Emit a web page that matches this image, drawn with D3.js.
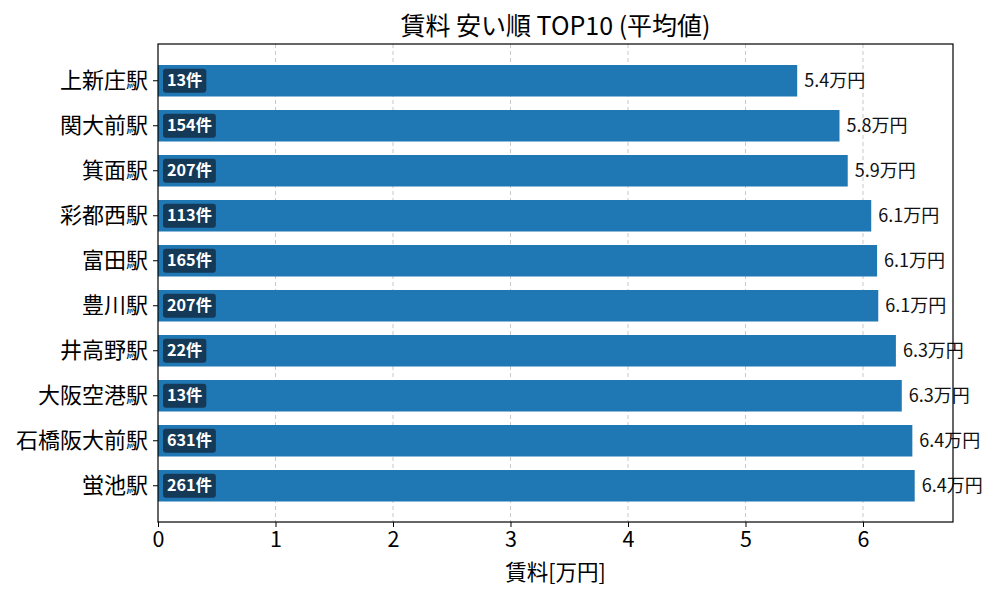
<!DOCTYPE html>
<html>
<head>
<meta charset="utf-8">
<script src="https://cdn.jsdelivr.net/npm/d3@7"></script>
<style>
  body { margin: 0; background: #fff; }
  text { font-family: "Noto Sans CJK JP", "Noto Sans", sans-serif; }
  .grid line { stroke: #c8c8c8; stroke-dasharray: 4 3; }
</style>
</head>
<body>
<svg id="chart" width="1000" height="600"></svg>
<script>
const stations = ["上新庄駅", "関大前駅", "箕面駅", "彩都西駅", "富田駅", "豊川駅", "井高野駅", "大阪空港駅", "石橋阪大前駅", "蛍池駅"];
const rents = [5.44, 5.80, 5.87, 6.07, 6.12, 6.13, 6.28, 6.33, 6.42, 6.44];
const counts = [13, 154, 207, 113, 165, 207, 22, 13, 631, 261];
const xTicks = [0, 1, 2, 3, 4, 5, 6];

const width = 1000;
const height = 600;
const margin = { top: 44, right: 47, bottom: 78, left: 158 };

const svg = d3.select("#chart");

const x = d3.scaleLinear()
    .domain([0, 6.766])
    .range([margin.left, width - margin.right]);

const y = d3.scaleBand()
    .domain(stations)
    .range([51.5, 515])
    .padding(0.3);

// grid
svg.append("g")
    .attr("class", "grid")
    .selectAll("line")
    .data(xTicks.slice(1))
    .join("line")
    .attr("x1", d => x(d))
    .attr("x2", d => x(d))
    .attr("y1", margin.top)
    .attr("y2", height - margin.bottom);

// bars
svg.append("g")
    .selectAll("rect")
    .data(stations)
    .join("rect")
    .attr("x", x(0))
    .attr("y", d => y(d))
    .attr("width", (d, i) => x(rents[i]) - x(0))
    .attr("height", y.bandwidth())
    .attr("fill", "#1f77b4");

// value labels
svg.append("g")
    .selectAll("text")
    .data(stations)
    .join("text")
    .attr("x", (d, i) => x(rents[i]) + 7)
    .attr("y", d => y(d) + y.bandwidth() / 2)
    .attr("dy", "0.35em")
    .style("font-size", "18px")
    .attr("fill", "#111")
    .text((d, i) => `${rents[i].toFixed(1)}万円`);

// count badges
const badges = svg.append("g")
    .selectAll("g")
    .data(stations)
    .join("g")
    .attr("transform", d => `translate(${x(0) + 5},${y(d) + y.bandwidth() / 2})`);

badges.append("text")
    .attr("x", 4)
    .attr("dy", "0.35em")
    .attr("fill", "#fff")
    .style("font-size", "16.2px")
    .style("font-weight", "bold")
    .text((d, i) => `${counts[i]}件`)
    .each(function () {
        const w = this.getBBox().width;
        d3.select(this.parentNode).insert("rect", "text")
            .attr("x", 0)
            .attr("y", -12)
            .attr("width", w + 8)
            .attr("height", 24)
            .attr("rx", 3)
            .attr("fill", "#143a58");
    });

// axes
const xAxis = svg.append("g")
    .attr("transform", `translate(0,${height - margin.bottom})`)
    .call(d3.axisBottom(x).tickValues(xTicks).tickFormat(d3.format("d")).tickSize(5).tickPadding(5).tickSizeOuter(0));
xAxis.selectAll("text").style("font-size", "21.5px").attr("fill", "#000");

const yAxis = svg.append("g")
    .attr("transform", `translate(${margin.left},0)`)
    .call(d3.axisLeft(y).tickSize(5).tickPadding(5).tickSizeOuter(0));
yAxis.selectAll("text").style("font-size", "22px").attr("fill", "#000");

[xAxis, yAxis].forEach(a => a.select(".domain").remove());

// frame
svg.append("rect")
    .attr("x", margin.left)
    .attr("y", margin.top)
    .attr("width", width - margin.right - margin.left)
    .attr("height", height - margin.bottom - margin.top)
    .attr("fill", "none")
    .attr("stroke", "#000")
    .attr("stroke-width", 1.2);

// title and label
svg.append("text")
    .attr("x", (margin.left + width - margin.right) / 2)
    .attr("y", 35)
    .attr("text-anchor", "middle")
    .style("font-size", "25px")
    .text("賃料 安い順 TOP10 (平均値)");

svg.append("text")
    .attr("x", (margin.left + width - margin.right) / 2)
    .attr("y", 580)
    .attr("text-anchor", "middle")
    .style("font-size", "21.5px")
    .text("賃料[万円]");
</script>
</body>
</html>
